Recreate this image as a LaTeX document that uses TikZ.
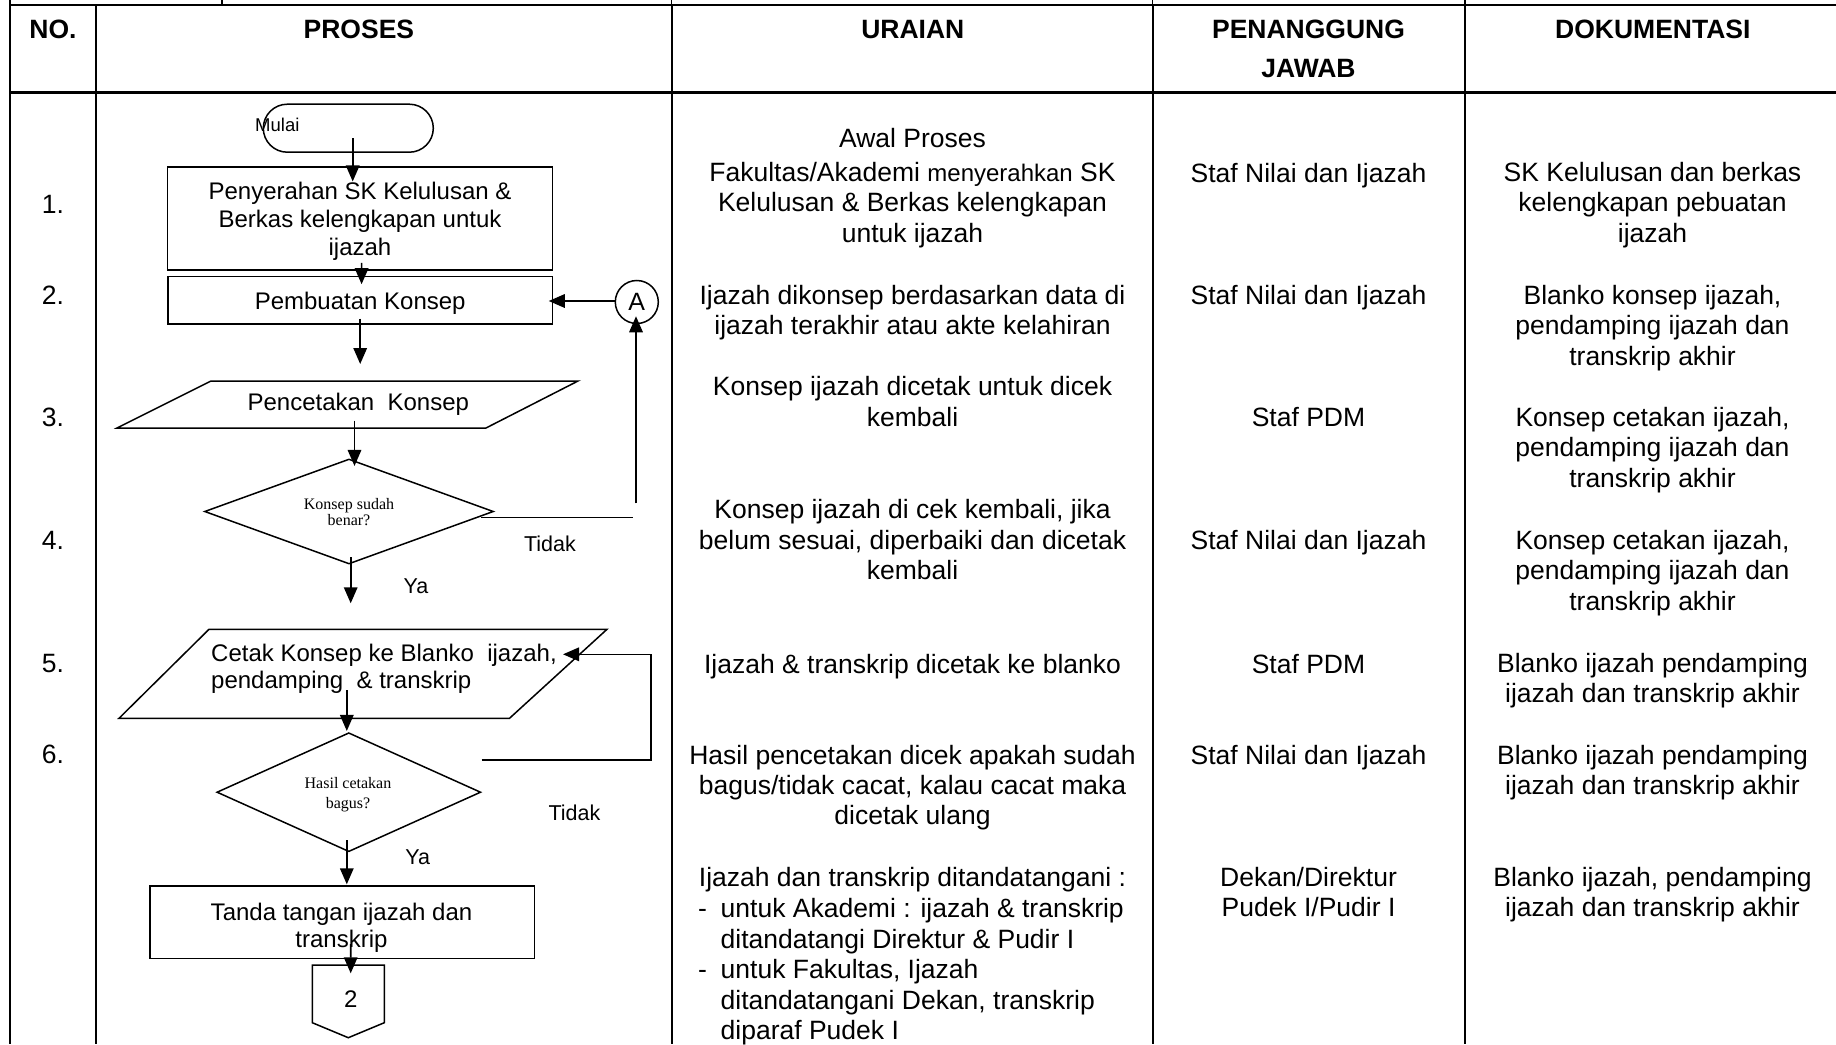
\documentclass[tikz,border=0pt]{standalone}
\usepackage{fontspec}
\setmainfont{Liberation Sans}
\newfontfamily\serifd{Liberation Serif}
\usetikzlibrary{shapes.geometric,arrows.meta,calc}
\newcommand{\ml}[1]{\begin{tabular}{@{}c@{}}#1\end{tabular}}
\newcommand{\mll}[1]{\begin{tabular}{@{}l@{}}#1\end{tabular}}
\tikzset{
  tx/.style={inner sep=0pt, font=\fontsize{26.5}{30.4}\selectfont},
  hd/.style={inner sep=0pt, font=\bfseries\fontsize{26.5}{30.4}\selectfont},
  fc/.style={inner sep=0pt, font=\fontsize{24}{27.6}\selectfont},
  lbl/.style={inner sep=0pt, font=\fontsize{21.5}{24.7}\selectfont},
  dtx/.style={inner sep=0pt, font=\serifd\fontsize{16}{16.5}\selectfont},
  boxs/.style={draw, line width=1.5pt, inner sep=0pt},
  ln/.style={line width=1.5pt},
  arr/.style={line width=1.6pt, -{Triangle[length=16pt,width=13.5pt]}},
  hline/.style={line width=2.8pt},
  vline/.style={line width=2pt},
  tickl/.style={line width=1.2pt}
}
\begin{document}
\begin{tikzpicture}[x=1pt,y=-1pt]
\useasboundingbox (0,0) rectangle (1836,1044);
\clip (0,0) rectangle (1836,1044);
% ---------- table grid ----------
\draw[hline] (9,5) -- (1840,5);
\draw[hline] (9,92.3) -- (1840,92.3);
\foreach \x in {10,95.7,671.5,1152.5,1465} \draw[vline] (\x,5) -- (\x,1044);
\foreach \x in {10,222,671.5,1152.5,1465} \draw[tickl] (\x,0) -- (\x,5);
% ---------- headers ----------
\node[hd] (hno) at (53,32.2) {\ml{NO.}};
\node[hd] (hpr) at (358.9,32.2) {\ml{PROSES}};
\node[hd] (hur) at (912.8,32.2) {\ml{URAIAN}};
\node[hd] (hpj1) at (1308.5,32.2) {\ml{PENANGGUNG}};
\node[hd] (hpj2) at (1308.5,71) {\ml{JAWAB}};
\node[hd] (hdk) at (1652.8,32.2) {\ml{DOKUMENTASI}};
% ---------- numbers ----------
\node[tx] (n1) at (53,207) {\ml{1.}};
\node[tx] (n2) at (53,298) {\ml{2.}};
\node[tx] (n3) at (53,420) {\ml{3.}};
\node[tx] (n4) at (53,543) {\ml{4.}};
\node[tx] (n5) at (53,666) {\ml{5.}};
\node[tx] (n6) at (53,757) {\ml{6.}};
% ---------- uraian ----------
\node[tx] (u0) at (912.5,141.3) {\ml{Awal Proses}};
\node[tx] (u1) at (912.5,205.8) {\ml{Fakultas/Akademi {\fontsize{24}{30.4}\selectfont menyerahkan} SK\\Kelulusan \& Berkas kelengkapan\\untuk ijazah}};
\node[tx] (u2) at (912.5,313.7) {\ml{Ijazah dikonsep berdasarkan data di\\ijazah terakhir atau akte kelahiran}};
\node[tx] (u3) at (912.5,404.8) {\ml{Konsep ijazah dicetak untuk dicek\\kembali}};
\node[tx] (u4) at (912.5,543) {\ml{Konsep ijazah di cek kembali, jika\\belum sesuai, diperbaiki dan dicetak\\kembali}};
\node[tx] (u5) at (912.5,667) {\ml{Ijazah \& transkrip dicetak ke blanko}};
\node[tx] (u6) at (912.5,788.5) {\ml{Hasil pencetakan dicek apakah sudah\\bagus/tidak cacat, kalau cacat maka\\dicetak ulang}};
\node[tx] (u7) at (912.5,880.3) {\ml{Ijazah dan transkrip ditandatangani :}};
\node[tx, anchor=west] (u8) at (698,972.7) {\mll{\makebox[22.5pt][l]{-}untuk Akademi : ijazah \& transkrip\\\hspace*{22.5pt}ditandatangi Direktur \& Pudir I\\\makebox[22.5pt][l]{-}untuk Fakultas, Ijazah\\\hspace*{22.5pt}ditandatangani Dekan, transkrip\\\hspace*{22.5pt}diparaf Pudek I}};
% ---------- penanggung jawab ----------
\node[tx] (pj1) at (1308.5,176) {\ml{Staf Nilai dan Ijazah}};
\node[tx] (pj2) at (1308.5,298.7) {\ml{Staf Nilai dan Ijazah}};
\node[tx] (pj3) at (1308.5,420.3) {\ml{Staf PDM}};
\node[tx] (pj4) at (1308.5,543.7) {\ml{Staf Nilai dan Ijazah}};
\node[tx] (pj5) at (1308.5,667) {\ml{Staf PDM}};
\node[tx] (pj6) at (1308.5,758.7) {\ml{Staf Nilai dan Ijazah}};
\node[tx] (pj7) at (1308.5,895.3) {\ml{Dekan/Direktur\\Pudek I/Pudir I}};
% ---------- dokumentasi ----------
\node[tx] (dk1) at (1652.5,205.8) {\ml{SK Kelulusan dan berkas\\kelengkapan pebuatan\\ijazah}};
\node[tx] (dk2) at (1652.5,328.7) {\ml{Blanko konsep ijazah,\\pendamping ijazah dan\\transkrip akhir}};
\node[tx] (dk3) at (1652.5,450.6) {\ml{Konsep cetakan ijazah,\\pendamping ijazah dan\\transkrip akhir}};
\node[tx] (dk4) at (1652.5,573.7) {\ml{Konsep cetakan ijazah,\\pendamping ijazah dan\\transkrip akhir}};
\node[tx] (dk5) at (1652.5,681.5) {\ml{Blanko ijazah pendamping\\ijazah dan transkrip akhir}};
\node[tx] (dk6) at (1652.5,773.7) {\ml{Blanko ijazah pendamping\\ijazah dan transkrip akhir}};
\node[tx] (dk7) at (1652.5,895.3) {\ml{Blanko ijazah, pendamping\\ijazah dan transkrip akhir}};
% ---------- flowchart shapes ----------
\node[boxs, rounded corners=24pt, minimum width=170pt, minimum height=48pt] (mulai) at (348.3,128.2) {};
\node[lbl, font=\fontsize{18.5}{21}\selectfont, anchor=west] (mulait) at (255,127) {\ml{Mulai}};
\node[boxs, minimum width=385pt, minimum height=103pt] (box1) at (360,218.7) {};
\node[fc] (b1t) at (360,222) {\ml{Penyerahan SK Kelulusan \&\\Berkas kelengkapan untuk\\ijazah}};
\node[boxs, minimum width=384.6pt, minimum height=47.3pt] (box2) at (360.4,300.3) {};
\node[fc] (b2t) at (360.2,303.5) {\ml{Pembuatan Konsep}};
\node[boxs, circle, minimum size=43pt, font=\fontsize{25}{28}\selectfont] (A) at (636.8,302) {A};
\draw[ln] (211,381) -- (578,381) -- (486,428) -- (117,428) -- cycle;
\node[fc] (p1t) at (358.3,404.5) {\ml{Pencetakan\ \ Konsep}};
\node[boxs, diamond, minimum width=289pt, minimum height=105pt] (d1) at (349,511.5) {};
\node[dtx] (d1t) at (349,514) {\ml{Konsep sudah\\benar?}};
\draw[ln] (209,629.3) -- (607,629.3) -- (509.5,718.3) -- (119,718.3) -- cycle;
\node[fc, font=\fontsize{24}{26.7}\selectfont, anchor=west] (p2t) at (211,670) {\mll{Cetak Konsep ke Blanko\ \ ijazah,\\pendamping\ \ \& transkrip}};
\node[boxs, diamond, minimum width=264pt, minimum height=119pt] (d2) at (348.8,792.2) {};
\node[dtx, font=\serifd\fontsize{16}{19.5}\selectfont] (d2t) at (348,794.5) {\ml{Hasil cetakan\\bagus?}};
\node[boxs, minimum width=384.6pt, minimum height=72.3pt] (box3) at (342.1,922.2) {};
\node[fc] (b3t) at (341.5,928.5) {\ml{Tanda tangan ijazah dan\\transkrip}};
\draw[ln] (312.3,965) -- (384.3,965) -- (384.3,1022.7) -- (348.3,1037.7) -- (312.3,1022.7) -- cycle;
\node[fc] (off) at (350.7,999.3) {2};
% ---------- labels ----------
\node[lbl] (t1) at (550,547) {\ml{Tidak}};
\node[lbl] (y1) at (416,588.7) {\ml{Ya}};
\node[lbl] (t2) at (574.5,815.3) {\ml{Tidak}};
\node[lbl] (y2) at (417.6,859.3) {\ml{Ya}};
% ---------- connectors ----------
\coordinate (c1) at (360.2,364);
\coordinate (c2) at (350.7,603.3);
\coordinate (c3) at (636,517.3);
\coordinate (c4) at (636,503.3);
\coordinate (c5) at (651,760);
\coordinate (c6) at (651,654.3);
\coordinate (c7) at (563,654.3);
\draw[arr] ($(mulai.center)+(4.4,10)$) -- ($(box1.north)+(-7.3,15)$);
\draw[arr] ($(box1.south)+(1.6,-8)$) -- ($(box2.north)+(1.2,8.3)$);
\draw[arr] ($(A.west)+(0,-1)$) -- ($(box2.east)+(-4.7,0.7)$);
\draw[arr] ($(box2.south)+(-0.2,-6)$) -- (c1);
\draw[arr] ($(p1t)+(-3.8,16.2)$) -- ($(d1.north)+(5.5,7.7)$);
\draw[ln] ($(d1.east)+(-12.8,5.8)$) -- ($(c3)+(-2.7,0)$);
\draw[arr] (c4) -- ($(A.south)+(-0.8,-8)$);
\draw[arr] ($(d1.south)+(1.7,-7.3)$) -- (c2);
\draw[arr] ($(p2t.west)+(135.8,20)$) -- ($(d2.north)+(-2,-1)$);
\draw[arr] ($(d2.east)+(0,-32.2)$) -- (c5) -- (c6) -- (c7);
\draw[arr] ($(d2.south)+(-2,-12.4)$) -- ($(box3.north)+(4.7,-1)$);
\draw[arr] ($(box3.south)+(8.6,-15)$) -- ($(off)+(0,-26)$);
\end{tikzpicture}
\end{document}
